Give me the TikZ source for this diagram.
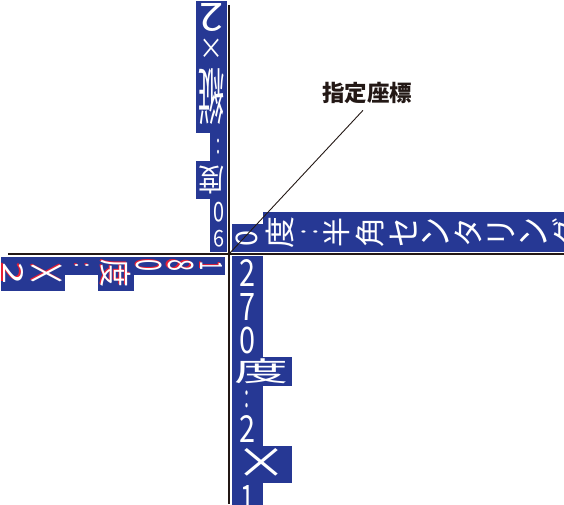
\documentclass[tikz,border=0pt]{standalone}
\usepackage{fontspec}
\usepackage{graphicx}
\newfontfamily\cjk{Noto Sans CJK JP}
\definecolor{stripblue}{RGB}{38,56,148}
\definecolor{ghostred}{RGB}{232,30,52}
\definecolor{ink}{RGB}{35,24,21}
% glyph squeezed into a box of given width and height
\newcommand{\gl}[3]{\resizebox*{#1pt}{#2pt}{#3}}
% misregistered red copy behind a glyph
\newcommand{\ghost}[1]{\rlap{\kern-1.2pt\raisebox{-1.2pt}{\color{ghostred}#1}}#1}
\tikzset{
  cell/.style 2 args={fill=stripblue, draw=stripblue, line width=0.6pt, text=white,
    inner sep=0pt, anchor=north west, minimum width=#1pt, minimum height=#2pt, font=\cjk},
  axis/.style={draw=ink, line width=1.4pt},
  leader/.style={draw=ink, line width=0.9pt},
}
\begin{document}
\begin{tikzpicture}[x=1pt, y=1pt]
\clip (-229,-250) rectangle (335,254);
\coordinate (org) at (0,0);

% 0 deg: to the right
\begin{scope}[rotate=90, transform shape]
\node[cell={27}{30}] (r1) at (2,-3) {\gl{16}{22}{0}};
\node[cell={39}{34}] (r2) at (r1.south west) {\gl{32}{28}{度}};
\node[cell={39}{24}] (r3) at (r2.south west) {\gl{5}{16}{:}};
\node[cell={39}{30}] (r4) at (r3.south west) {\gl{30}{26}{半}};
\node[cell={39}{34}] (r5) at (r4.south west) {\gl{30}{28}{角}};
\node[cell={39}{32}] (r6) at (r5.south west) {\gl{30}{27}{セ}};
\node[cell={39}{32}] (r7) at (r6.south west) {\gl{30}{27}{ン}};
\node[cell={39}{32}] (r8) at (r7.south west) {\gl{30}{27}{タ}};
\node[cell={39}{32}] (r9) at (r8.south west) {\gl{30}{27}{リ}};
\node[cell={39}{32}] (r10) at (r9.south west) {\gl{30}{27}{ン}};
\node[cell={39}{32}] (r11) at (r10.south west) {\gl{30}{27}{グ}};
\end{scope}

% 90 deg: upwards
\begin{scope}[rotate=180, transform shape]
\node[cell={16}{26}] (t1) at (2,-2) {\gl{11}{17}{9}};
\node[cell={16}{26}] (t2) at (t1.south west) {\gl{11}{20}{0}};
\node[cell={30}{37}] (t3) at (t2.south west) {\gl{26}{28}{度}};
\node[cell={16}{28}] (t4) at (t3.south west) {\gl{4}{15}{:}};
\node[cell={30}{72}] (t5) at (t4.south west) {\gl{26}{56}{縦}};
\node[cell={30}{25}] (t6) at (t5.south west) {\gl{24}{20}{×}};
\node[cell={30}{33}] (t7) at (t6.south west) {\gl{24}{28}{2}};
\end{scope}

% 180 deg: to the left
\begin{scope}[rotate=-90, transform shape]
\node[cell={17}{28}] (l1) at (3,-4) {\ghost{\gl{9}{22}{1}}};
\node[cell={17}{32}] (l2) at (l1.south west) {\ghost{\gl{12}{26}{8}}};
\node[cell={17}{30}] (l3) at (l2.south west) {\ghost{\gl{12}{26}{0}}};
\node[cell={33}{35}] (l4) at (l3.south west) {\ghost{\gl{28}{30}{度}}};
\node[cell={17}{32}] (l5) at (l4.south west) {\ghost{\gl{4}{14}{:}}};
\node[cell={33}{40}] (l6) at (l5.south west) {\ghost{\gl{26}{34}{×}}};
\node[cell={33}{23}] (l7) at (l6.south west) {\ghost{\gl{22}{20}{2}}};
\end{scope}

% 270 deg: downwards
\node[cell={30}{34}] (d1) at (3,-2) {\gl{16}{27}{2}};
\node[cell={30}{32}] (d2) at (d1.south west) {\gl{16}{27}{7}};
\node[cell={30}{33}] (d3) at (d2.south west) {\gl{16}{27}{0}};
\node[cell={59}{28}] (d4) at (d3.south west) {\gl{54}{25}{度}};
\node[cell={30}{27}] (d5) at (d4.south west) {\gl{5}{17}{:}};
\node[cell={30}{32}] (d6) at (d5.south west) {\gl{16}{27}{2}};
\node[cell={59}{36}] (d7) at (d6.south west) {\gl{52}{30}{×}};
\node[cell={30}{32}] (d8) at (d7.south west) {\gl{14}{27}{1}};

% axes through the given point
\draw[axis] (-221,0) -- (335,0);
\draw[axis] (0,249) -- (0,-250);

% label
\node[text=ink, font={\cjk\bfseries\fontsize{22.5}{22.5}\selectfont}] (lbl) at (138,161) {指定座標};
\draw[leader] ([xshift=-4pt,yshift=-3pt]lbl.south) -- (org);
\end{tikzpicture}
\end{document}
